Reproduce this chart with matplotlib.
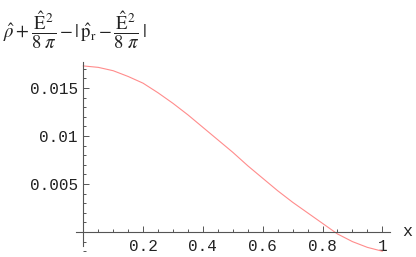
import numpy as np
import matplotlib.pyplot as plt
from matplotlib.ticker import MultipleLocator, FixedLocator, FixedFormatter

# values
xs = [0.0, 0.05, 0.1, 0.15, 0.2, 0.25, 0.3, 0.35, 0.4, 0.45, 0.5,
      0.55, 0.6, 0.65, 0.7, 0.75, 0.8, 0.85, 0.9, 0.95, 1.0]
ys = [0.0173, 0.01715, 0.0168, 0.0162, 0.0155, 0.0145, 0.0134, 0.0122,
      0.0109, 0.0096, 0.0083, 0.0069, 0.0056, 0.0043, 0.0031, 0.0020,
      0.0009, -0.0002, -0.0010, -0.0016, -0.0020]

xticks = [0.2, 0.4, 0.6, 0.8, 1.0]
xticklabels = ['0.2', '0.4', '0.6', '0.8', '1']
yticks = [0.005, 0.01, 0.015]
yticklabels = ['0.005', '0.01', '0.015']

W, H = 416, 257
fig = plt.figure(figsize=(W / 100, H / 100), dpi=100)

# axes placement in pixels
x0px, x1px = 83.3, 382.3          # data x=0 and x=1
yzero, yper = 232.0, 48.0 / 0.005  # data y=0 row, px per unit
xlo, xhi = -0.025, 1.025
ylo, yhi = -0.0021, 0.0177
left = x0px + xlo * (x1px - x0px)
right = x0px + xhi * (x1px - x0px)
top = yzero - yhi * yper
bottom = yzero - ylo * yper
ax = fig.add_axes([left / W, 1 - bottom / H, (right - left) / W, (bottom - top) / H])

ax.plot(xs, ys, color='#ff8c8c', lw=0.8)
ax.set_xlim(xlo, xhi)
ax.set_ylim(ylo, yhi)

axc = '#555555'
for s in ['top', 'right']:
    ax.spines[s].set_visible(False)
ax.spines['left'].set_position(('data', 0))
ax.spines['bottom'].set_position(('data', 0))
ax.spines['left'].set_bounds(-0.0015, yhi)
ax.spines['left'].set_color(axc)
ax.spines['bottom'].set_color(axc)
ax.spines['left'].set_linewidth(0.8)
ax.spines['bottom'].set_linewidth(0.8)

mono = 'Liberation Mono'
ax.xaxis.set_major_locator(FixedLocator(xticks))
ax.xaxis.set_major_formatter(FixedFormatter(xticklabels))
ax.xaxis.set_minor_locator(MultipleLocator(0.05))
ax.yaxis.set_major_locator(FixedLocator(yticks))
ax.yaxis.set_major_formatter(FixedFormatter(yticklabels))
ax.yaxis.set_minor_locator(MultipleLocator(0.001))
ax.tick_params(which='both', direction='in', color=axc, width=0.7)
ax.tick_params(which='major', length=4, labelsize=11.5, labelcolor='#222222')
ax.tick_params(which='minor', length=2)
ax.tick_params(axis='x', pad=5)
ax.tick_params(axis='y', pad=4)
for lab in ax.get_xticklabels() + ax.get_yticklabels():
    lab.set_family(mono)

ax.text(1.068, 0, 'x', family=mono, fontsize=12, color='#222222',
        ha='left', va='center', clip_on=False)

plt.rcParams['mathtext.fontset'] = 'stix'
fig.text(3 / W, 1 - 30 / H,
         r'$\hat{\rho}+\dfrac{\hat{\mathrm{E}}^{2}}{8\;\pi}-|\,\hat{\mathrm{p}}_{\mathrm{r}}-\dfrac{\hat{\mathrm{E}}^{2}}{8\;\pi}\;|$',
         fontsize=13.5, color='#222222', ha='left', va='center')

fig.savefig('out.png', dpi=100)
